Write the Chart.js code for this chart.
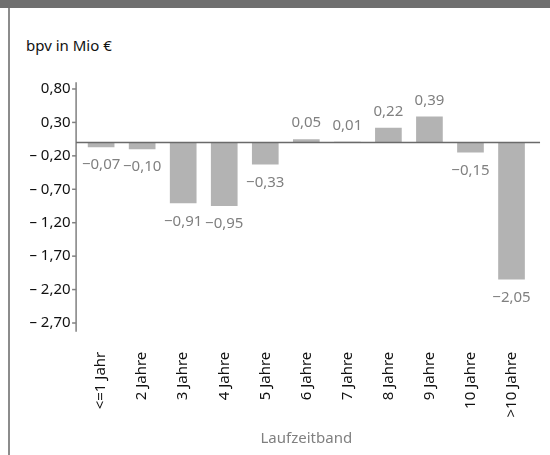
<!DOCTYPE html>
<html>
<head>
<meta charset="utf-8">
<script src="https://cdn.jsdelivr.net/npm/chart.js@4/dist/chart.umd.min.js"></script>
<style>
  html, body { margin: 0; padding: 0; background: #fff; }
  #wrap { position: relative; width: 550px; height: 455px; overflow: hidden; }
  #hdr { position: absolute; left: 0; top: 0; width: 550px; height: 8px; background: #6f6f6f; }
  #lb { position: absolute; left: 8px; top: 8px; width: 2px; height: 447px; background: #8c8c8c; }
  #ttl { position: absolute; left: 26px; top: 35px; font: 15px "Noto Sans", sans-serif; color: #111; white-space: nowrap; }
  canvas { position: absolute; left: 0; top: 0; }
</style>
</head>
<body>
<div id="wrap">
  <div id="hdr"></div>
  <div id="lb"></div>
  <div id="ttl">bpv in Mio €</div>
  <canvas id="c" width="550" height="455"></canvas>
</div>
<script>
const categories = ["<=1 Jahr", "2 Jahre", "3 Jahre", "4 Jahre", "5 Jahre", "6 Jahre", "7 Jahre", "8 Jahre", "9 Jahre", "10 Jahre", ">10 Jahre"];
const bpvValues = [-0.07, -0.10, -0.91, -0.95, -0.33, 0.05, 0.01, 0.22, 0.39, -0.15, -2.05];
const yTickValues = [0.80, 0.30, -0.20, -0.70, -1.20, -1.70, -2.20, -2.70];
const yMin = -2.83, yMax = 0.90;
const xTitle = "Laufzeitband";

const FONT = '"Noto Sans", sans-serif';
const FS = 15;

function fmtTick(v) {
  const s = Math.abs(v).toFixed(2).replace('.', ',');
  return v < 0 ? '\u2013 ' + s : s;
}
function fmtLabel(v) {
  const s = Math.abs(v).toFixed(2).replace('.', ',');
  return v < 0 ? '\u2212' + s : s;
}

const decor = {
  id: 'decor',
  afterDatasetsDraw(chart) {
    const ctx = chart.ctx, y = chart.scales.y, a = chart.chartArea;
    const axX = a.left - 4.5;
    ctx.save();
    ctx.strokeStyle = '#808080';
    ctx.lineWidth = 1.5;
    ctx.beginPath();
    ctx.moveTo(axX, a.top);
    ctx.lineTo(axX, a.bottom);
    ctx.stroke();
    yTickValues.forEach(v => {
      const py = y.getPixelForValue(v);
      ctx.beginPath();
      ctx.moveTo(axX - 4, py);
      ctx.lineTo(axX, py);
      ctx.stroke();
    });
    const z = y.getPixelForValue(0);
    ctx.strokeStyle = '#6a6a6a';
    ctx.lineWidth = 1.5;
    ctx.beginPath();
    ctx.moveTo(axX, z);
    ctx.lineTo(a.right + 8, z);
    ctx.stroke();
    ctx.fillStyle = '#808080';
    ctx.font = FS + 'px ' + FONT;
    ctx.textAlign = 'center';
    ctx.textBaseline = 'middle';
    const meta = chart.getDatasetMeta(0);
    meta.data.forEach((bar, i) => {
      const v = bpvValues[i];
      const ty = v >= 0 ? Math.min(bar.y, bar.base) - 16 : Math.max(bar.y, bar.base) + 18;
      ctx.fillText(fmtLabel(v), bar.x, ty);
    });
    ctx.restore();
  }
};

new Chart(document.getElementById('c'), {
  type: 'bar',
  data: {
    labels: categories,
    datasets: [{
      data: bpvValues,
      backgroundColor: '#b3b3b3',
      borderWidth: 0,
      barPercentage: 0.65,
      categoryPercentage: 1.0
    }]
  },
  options: {
    responsive: false,
    animation: false,
    devicePixelRatio: 1,
    layout: { padding: { left: 0, right: 10.7, top: 82.3, bottom: 0 } },
    plugins: { legend: { display: false }, tooltip: { enabled: false }, title: { display: false } },
    scales: {
      x: {
        grid: { display: false, drawTicks: false },
        border: { display: false },
        ticks: {
          color: '#111',
          font: { family: FONT, size: FS },
          minRotation: 90, maxRotation: 90,
          padding: 20,
          autoSkip: false
        },
        title: {
          display: true,
          text: xTitle,
          color: '#808080',
          font: { family: FONT, size: FS },
          padding: { top: 4, bottom: 7 }
        },
        afterFit(s) { s.height = 455 - 331.7; }
      },
      y: {
        min: yMin, max: yMax,
        grid: { display: false, drawTicks: false },
        border: { display: false },
        ticks: {
          color: '#111',
          font: { family: FONT, size: FS },
          padding: 10,
          callback: (v) => fmtTick(v)
        },
        afterBuildTicks(s) { s.ticks = yTickValues.map(v => ({ value: v })); },
        afterFit(s) { s.width = 80.6; }
      }
    }
  },
  plugins: [decor]
});
</script>
</body>
</html>
